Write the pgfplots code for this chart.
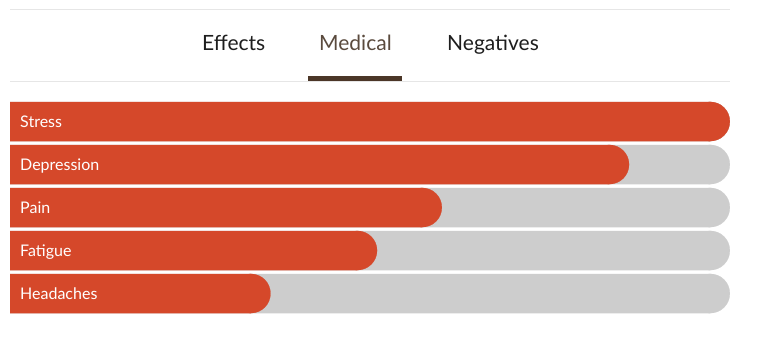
\documentclass[border=0pt]{standalone}
\usepackage{pgfplots}
\pgfplotsset{compat=1.18}
\usepackage{fontspec}
\setmainfont{Lato}
\definecolor{barorange}{HTML}{D5482A}
\definecolor{track}{HTML}{CDCDCD}
\definecolor{tabbrown}{HTML}{5A4A3D}
\definecolor{underl}{HTML}{4B3627}
\definecolor{rulegray}{HTML}{E6E6E6}
\definecolor{tabtext}{HTML}{1E1E1E}
\begin{document}
\begin{tikzpicture}[x=1pt,y=1pt]
\path[use as bounding box, fill=white] (0,0) rectangle (762,351);
\draw[rulegray, line width=1pt] (10,341.5) -- (730,341.5);
\draw[rulegray, line width=1pt] (10,269.5) -- (730,269.5);
\fill[underl] (308,270) rectangle (402,275);
\node[anchor=base west, inner sep=0pt, font=\fontsize{21}{25}\selectfont, text=tabtext] at (202,300.5) {Effects};
\node[anchor=base west, inner sep=0pt, font=\fontsize{21}{25}\selectfont, text=tabbrown] at (319,300.5) {Medical};
\node[anchor=base west, inner sep=0pt, font=\fontsize{21}{25}\selectfont, text=tabtext] at (447,300.5) {Negatives};
\begin{axis}[
  at={(10pt,36pt)}, anchor=south west, scale only axis,
  width=720pt, height=215pt,
  y dir=reverse, ymin=-0.5, ymax=4.5,
  xmin=0, xmax=100,
  % each bar ends in a half disc of radius 19.75pt (= 2.7431 units): the
  % square part stops at value - radius and the disc is centred there
  x filter/.expression={x-2.7431},
  axis line style={draw=none},
  major tick length=0pt,
  xtick=\empty,
  ytick={0,1,2,3,4},
  yticklabels={Stress,Depression,Pain,Fatigue,Headaches},
  yticklabel style={anchor=base west, inner sep=0pt, xshift=10pt, yshift=-6pt,
    text=white, font=\fontsize{16}{19}\selectfont},
  axis on top,
  clip=false,
  clip marker paths=true,
]
\addplot[xbar, bar width=39.5pt, bar shift=0pt, color=track, fill=track, draw=none,
  mark=*, mark size=19.6pt, mark options={solid, draw=track, fill=track, line width=0.2pt}]
  coordinates {(100,0) (100,1) (100,2) (100,3) (100,4)};
\addplot[xbar, bar width=39.5pt, bar shift=0pt, color=barorange, fill=barorange, draw=none,
  mark=*, mark size=19.6pt, mark options={solid, draw=barorange, fill=barorange, line width=0.2pt}]
  coordinates {(100,0) (86,1) (60,2) (51,3) (36.2,4)};
\end{axis}
\end{tikzpicture}
\end{document}
